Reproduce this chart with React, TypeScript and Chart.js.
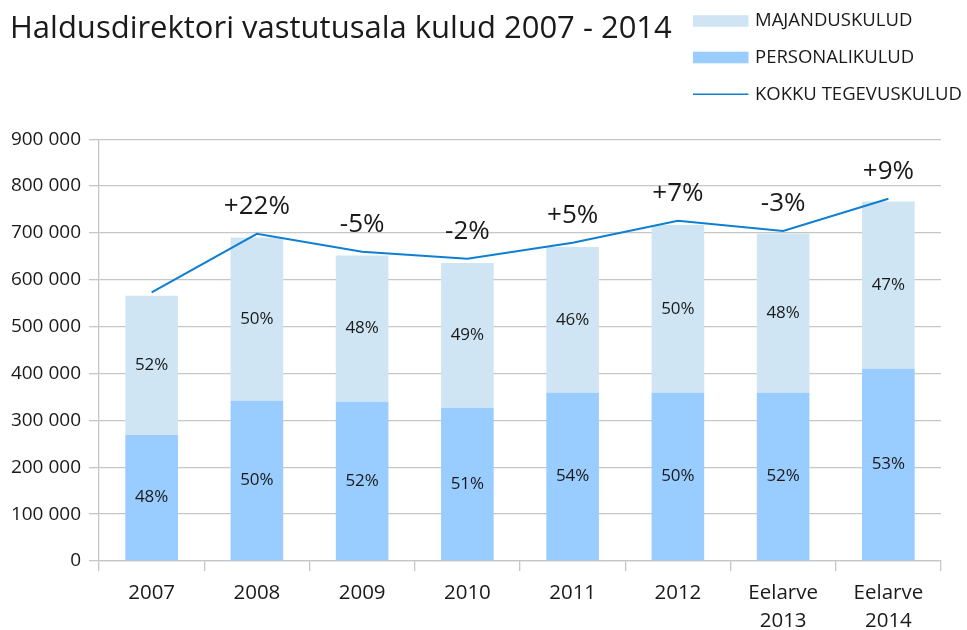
import React, { useEffect, useRef } from 'react';
import { Chart, registerables } from 'chart.js';

Chart.register(...registerables);

// ---- data ----
const categories: (string | string[])[] = ['2007', '2008', '2009', '2010', '2011', '2012', ['Eelarve', '2013'], ['Eelarve', '2014']];
const personalikulud = [269000, 342000, 340000, 327000, 359000, 359000, 359000, 410000];
const majanduskulud = [297000, 348000, 312000, 309000, 311000, 358000, 340000, 357000];
const kokkuTegevuskulud = [573000, 698000, 660000, 645000, 679000, 726000, 704000, 773000];
const personalShare = ['48%', '50%', '52%', '51%', '54%', '50%', '52%', '53%'];
const majandusShare = ['52%', '50%', '48%', '49%', '46%', '50%', '48%', '47%'];
const changeLabels = ['', '+22%', '-5%', '-2%', '+5%', '+7%', '-3%', '+9%'];
const seriesNames = ['PERSONALIKULUD', 'MAJANDUSKULUD', 'KOKKU TEGEVUSKULUD'];
const titleText = 'Haldusdirektori vastutusala kulud 2007 - 2014';

// ---- styles ----
const FONT = "'Open Sans', 'Noto Sans', sans-serif";
const TEXT = '#1a1a1a';
const GRID = '#c6c6c6';
const C_PERSONAL = '#99ccff';
const C_MAJANDUS = '#cfe5f3';
const C_LINE = '#0e7fd1';

const fmt = (v: number) => String(v).replace(/\B(?=(\d{3})+(?!\d))/g, ' ');

const valueLabels = {
  id: 'valueLabels',
  afterDatasetsDraw(chart: any) {
    const ctx = chart.ctx;
    ctx.save();
    ctx.fillStyle = TEXT;
    ctx.textAlign = 'center';
    ctx.textBaseline = 'middle';
    ctx.font = `17px ${FONT}`;
    const pm = chart.getDatasetMeta(0);
    const mm = chart.getDatasetMeta(1);
    const lm = chart.getDatasetMeta(2);
    pm.data.forEach((el: any, i: number) => {
      ctx.fillText(personalShare[i], el.x, (el.y + el.base) / 2);
    });
    mm.data.forEach((el: any, i: number) => {
      ctx.fillText(majandusShare[i], el.x, (el.y + el.base) / 2);
    });
    ctx.font = `26px ${FONT}`;
    lm.data.forEach((el: any, i: number) => {
      if (changeLabels[i]) ctx.fillText(changeLabels[i], el.x, el.y - 27);
    });
    ctx.restore();
  },
};

const sideLegend = {
  id: 'sideLegend',
  afterDraw(chart: any) {
    const ctx = chart.ctx;
    const ds = chart.data.datasets;
    const items = [
      { ds: ds[1], kind: 'box', y: 21 },
      { ds: ds[0], kind: 'box', y: 57.5 },
      { ds: ds[2], kind: 'line', y: 94.3 },
    ];
    const bx = 693;
    const bw = 55.5;
    ctx.save();
    items.forEach((it) => {
      if (it.kind === 'box') {
        ctx.fillStyle = it.ds.backgroundColor;
        ctx.fillRect(bx, it.y - 5.8, bw, 11.6);
      } else {
        ctx.strokeStyle = it.ds.borderColor;
        ctx.lineWidth = 1.5;
        ctx.beginPath();
        ctx.moveTo(bx, it.y);
        ctx.lineTo(bx + bw, it.y);
        ctx.stroke();
      }
      ctx.fillStyle = TEXT;
      ctx.font = `18.5px ${FONT}`;
      ctx.textAlign = 'left';
      ctx.textBaseline = 'middle';
      ctx.fillText(it.ds.label, 755, it.y);
    });
    ctx.restore();
  },
};

export default function App() {
  const ref = useRef<HTMLCanvasElement | null>(null);
  useEffect(() => {
    if (!ref.current) return;
    const chart = new Chart(ref.current, {
      type: 'bar',
      data: {
        labels: categories as any,
        datasets: [
          {
            type: 'bar',
            label: seriesNames[0],
            data: personalikulud,
            backgroundColor: C_PERSONAL,
            stack: 'kulud',
            order: 2,
            barPercentage: 0.5,
            categoryPercentage: 1,
          },
          {
            type: 'bar',
            label: seriesNames[1],
            data: majanduskulud,
            backgroundColor: C_MAJANDUS,
            stack: 'kulud',
            order: 2,
            barPercentage: 0.5,
            categoryPercentage: 1,
          },
          {
            type: 'line',
            label: seriesNames[2],
            data: kokkuTegevuskulud,
            borderColor: C_LINE,
            backgroundColor: C_LINE,
            borderWidth: 2,
            pointRadius: 0,
            tension: 0,
            fill: false,
            stack: 'kokku',
            order: 0,
          } as any,
        ],
      },
      options: {
        responsive: false,
        animation: false,
        devicePixelRatio: 1,
        layout: { padding: { left: 10, right: 26, top: 0, bottom: 0 } },
        font: { family: FONT },
        plugins: {
          legend: { display: false },
          tooltip: { enabled: false },
          title: {
            display: true,
            text: titleText,
            align: 'start',
            color: TEXT,
            font: { family: FONT, size: 31, weight: 'normal', lineHeight: 1.2 },
            padding: { top: 11, bottom: 91 },
          },
        },
        scales: {
          x: {
            stacked: true,
            grid: {
              offset: true,
              drawOnChartArea: true,
              color: (c: any) => (c.index >= categories.length ? GRID : 'rgba(0,0,0,0)'),
              tickColor: GRID,
              tickLength: 10,
              lineWidth: 1.3,
            },
            border: { display: true, color: GRID, width: 1.3 },
            ticks: {
              color: TEXT,
              font: { family: FONT, size: 20.5, lineHeight: 1.37 },
              padding: 8,
              maxRotation: 0,
              autoSkip: false,
            },
            afterFit: (s: any) => {
              s.height = 69;
            },
          },
          y: {
            stacked: true,
            min: 0,
            max: 900000,
            ticks: {
              stepSize: 100000,
              color: TEXT,
              font: { family: FONT, size: 19 },
              padding: 8,
              callback: (v: any) => fmt(Number(v)),
            },
            grid: { color: GRID, tickLength: 10, lineWidth: 1.3 },
            border: { display: true, color: GRID, width: 1.3 },
            afterFit: (s: any) => {
              s.width = 89;
            },
          },
        },
      },
      plugins: [valueLabels, sideLegend],
    });
    return () => chart.destroy();
  }, []);
  return (
    <div style={{ position: 'absolute', left: 0, top: 0, width: 967, height: 630, background: '#fff' }}>
      <canvas ref={ref} width={967} height={630} style={{ display: 'block' }} />
    </div>
  );
}
